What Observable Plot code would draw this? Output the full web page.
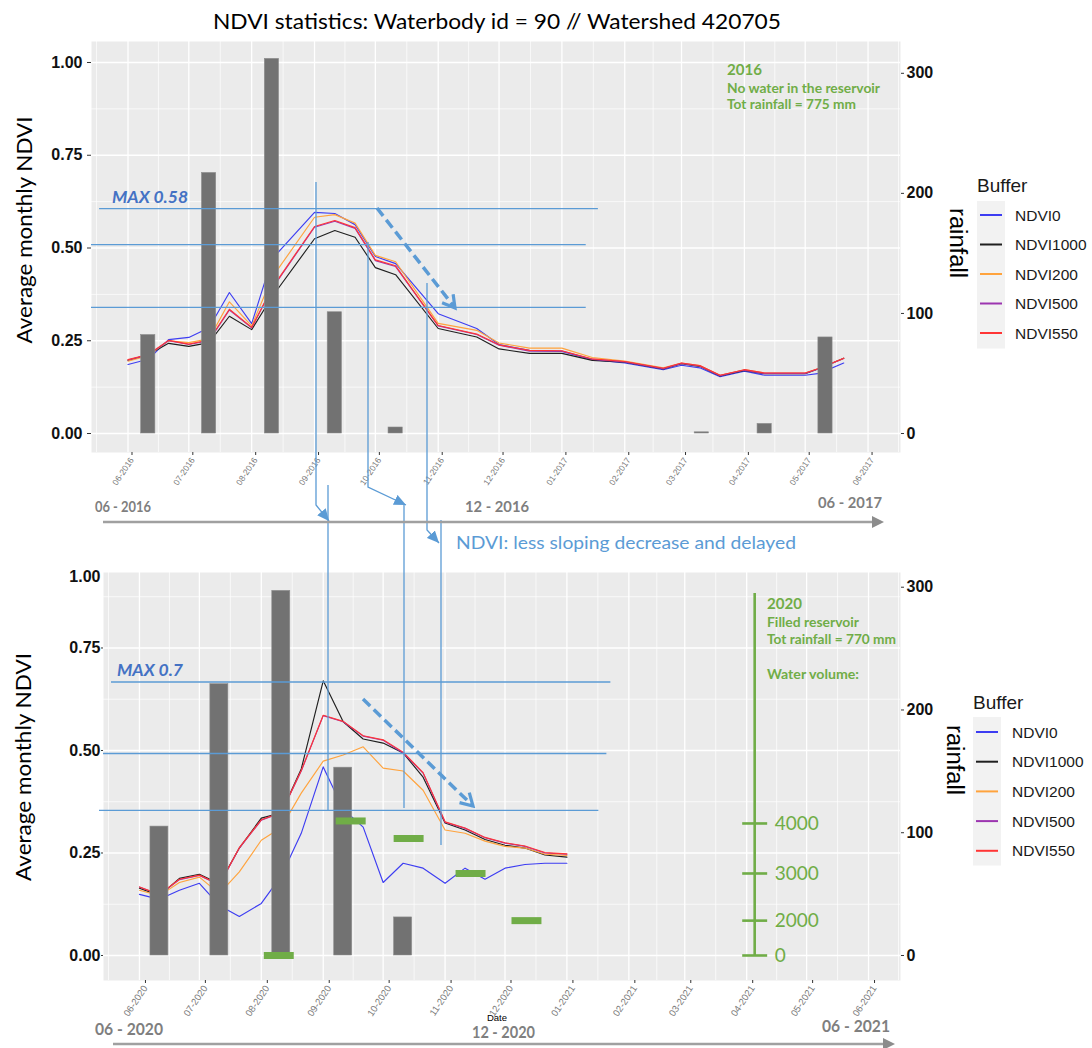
<!DOCTYPE html>
<html>
<head>
<meta charset="utf-8">
<script src="https://cdn.jsdelivr.net/npm/d3@7"></script>
<script src="https://cdn.jsdelivr.net/npm/@observablehq/plot@0.6"></script>
<style>
  html, body { margin: 0; padding: 0; background: #fff; }
  #page { position: relative; width: 1092px; height: 1048px; overflow: hidden; background: #fff; }
  #page > svg { position: absolute; left: 0; }
</style>
</head>
<body>
<div id="page"></div>
<script>
// ================= DATA =================
const buffers = ["NDVI0", "NDVI1000", "NDVI200", "NDVI500", "NDVI550"];
const bufferColors = ["#3d3df2", "#1f1f1f", "#ffa33d", "#9c35b0", "#ff3535"];

const ndviTicks = [0, 0.25, 0.5, 0.75, 1];
const rainTicks = [0, 100, 200, 300];
const waterTicks = [0, 2000, 3000, 4000];

// ---- 2016/2017 ----
const dates2016 = ["2016-06-01","2016-06-11","2016-06-21","2016-07-01","2016-07-11","2016-07-21","2016-08-01","2016-08-11","2016-09-01","2016-09-11","2016-09-21","2016-10-01","2016-10-11","2016-11-01","2016-11-20","2016-12-01","2016-12-16","2017-01-01","2017-01-16","2017-02-01","2017-02-20","2017-03-01","2017-03-10","2017-03-20","2017-04-01","2017-04-11","2017-05-01","2017-05-08","2017-05-20"];
const ndvi0_2016    = [0.186,0.200,0.253,0.259,0.285,0.380,0.296,0.470,0.596,0.593,0.563,0.477,0.458,0.323,0.283,0.240,0.224,0.221,0.199,0.190,0.172,0.184,0.177,0.153,0.168,0.157,0.157,0.162,0.190];
const ndvi1000_2016 = [0.197,0.212,0.243,0.235,0.245,0.316,0.280,0.368,0.525,0.547,0.529,0.447,0.428,0.283,0.260,0.228,0.216,0.216,0.197,0.192,0.174,0.188,0.181,0.155,0.170,0.161,0.161,0.175,0.203];
const ndvi200_2016  = [0.195,0.210,0.250,0.245,0.255,0.355,0.290,0.420,0.583,0.590,0.567,0.480,0.463,0.297,0.278,0.244,0.230,0.230,0.205,0.195,0.177,0.190,0.183,0.157,0.172,0.163,0.163,0.176,0.202];
const ndvi500_2016  = [0.198,0.212,0.250,0.240,0.250,0.333,0.285,0.390,0.556,0.572,0.553,0.466,0.450,0.290,0.267,0.238,0.222,0.222,0.200,0.193,0.175,0.189,0.182,0.156,0.171,0.162,0.162,0.175,0.202];
const ndvi550_2016  = [0.199,0.213,0.251,0.241,0.252,0.335,0.286,0.392,0.558,0.574,0.555,0.468,0.452,0.291,0.268,0.239,0.224,0.223,0.201,0.194,0.176,0.190,0.183,0.157,0.172,0.163,0.163,0.176,0.203];
const rainDates2016 = ["2016-06-11","2016-07-11","2016-08-11","2016-09-11","2016-10-11","2016-11-11","2016-12-11","2017-01-11","2017-02-11","2017-03-11","2017-04-11","2017-05-11"];
const rain2016 = [82, 217, 312, 101, 5, 0, 0, 0, 0, 1, 8, 80];

// ---- 2020/2021 ----
const dates2020 = ["2020-06-01","2020-06-11","2020-06-21","2020-07-01","2020-07-11","2020-07-21","2020-08-01","2020-08-11","2020-08-21","2020-09-01","2020-09-11","2020-09-21","2020-10-01","2020-10-11","2020-10-21","2020-11-01","2020-11-11","2020-11-21","2020-12-01","2020-12-11","2020-12-21","2021-01-01"];
const ndvi0_2020    = [0.149,0.137,0.159,0.176,0.122,0.095,0.127,0.194,0.298,0.460,0.357,0.313,0.178,0.225,0.213,0.176,0.213,0.186,0.213,0.222,0.225,0.225];
const ndvi1000_2020 = [0.164,0.146,0.188,0.198,0.175,0.262,0.335,0.348,0.455,0.670,0.570,0.528,0.518,0.494,0.435,0.323,0.306,0.283,0.269,0.262,0.245,0.240];
const ndvi200_2020  = [0.159,0.146,0.178,0.191,0.151,0.204,0.281,0.312,0.396,0.474,0.489,0.509,0.457,0.450,0.403,0.306,0.298,0.279,0.266,0.262,0.247,0.244];
const ndvi500_2020  = [0.167,0.148,0.185,0.195,0.172,0.262,0.330,0.348,0.450,0.585,0.570,0.535,0.525,0.494,0.445,0.325,0.310,0.287,0.274,0.266,0.250,0.247];
const ndvi550_2020  = [0.167,0.149,0.186,0.196,0.173,0.263,0.331,0.349,0.451,0.586,0.571,0.536,0.526,0.496,0.446,0.326,0.311,0.288,0.275,0.267,0.251,0.248];
const rainDates2020 = ["2020-06-11","2020-07-11","2020-08-11","2020-09-11","2020-10-11","2020-11-11","2020-12-11"];
const rain2020 = [105, 221, 297, 153, 31, 0, 0];
const waterDates2020 = ["2020-08-10","2020-09-15","2020-10-14","2020-11-14","2020-12-12"];
const water2020 = [0, 4050, 3700, 3000, 2000];

// ================= HELPERS =================
const DAY = 864e5;
const asDate = s => new Date(s + "T00:00:00Z");
const shiftDays = (d, n) => new Date(d.getTime() + n * DAY);
const longData = (dates, list) => buffers.flatMap((b, i) => dates.map((d, j) => ({date: asDate(d), buffer: b, value: list[i][j]})));
const rainRows = (dates, vals) => dates.map((d, i) => ({date: asDate(d), rain: vals[i]}));

const BLUE = "#5B9BD5";
const GREEN = "#70AD47";

function makePanel(cfg) {
  const months = d3.utcMonth.range(cfg.firstMonth, d3.utcMonth.offset(cfg.lastMonth, 1));
  const around = d3.utcMonth.range(d3.utcMonth.offset(cfg.firstMonth, -1), d3.utcMonth.offset(cfg.lastMonth, 2));
  const mids = d3.pairs(around, (a, b) => new Date((+a + +b) / 2)).filter(d => d > cfg.xDomain[0] && d < cfg.xDomain[1]);
  const yMinor = [0.125, 0.375, 0.625, 0.875].filter(v => v < cfg.yDomain[1]);
  const yMajor = ndviTicks.filter(v => v <= cfg.yDomain[1]);
  const k = cfg.k;
  const svg = Plot.plot({
    width: 1092, height: cfg.height,
    marginTop: cfg.mt, marginBottom: cfg.mb, marginLeft: cfg.ml, marginRight: cfg.mr,
    style: {background: "transparent", overflow: "visible", fontFamily: "'Liberation Sans', Arial, sans-serif", color: "#000"},
    x: {type: "utc", domain: cfg.xDomain},
    y: {type: "linear", domain: cfg.yDomain},
    color: {domain: buffers, range: bufferColors},
    marks: [
      Plot.frame({fill: "#EBEBEB", stroke: "none"}),
      Plot.gridY(yMinor, {stroke: "#fff", strokeOpacity: 1, strokeWidth: 0.7}),
      Plot.gridY(yMajor, {stroke: "#fff", strokeOpacity: 1, strokeWidth: 1.3}),
      Plot.gridX(mids, {stroke: "#fff", strokeOpacity: 1, strokeWidth: 0.7}),
      Plot.gridX(months, {stroke: "#fff", strokeOpacity: 1, strokeWidth: 1.3}),
      Plot.line(cfg.lines, {x: "date", y: "value", z: "buffer", stroke: "buffer", strokeWidth: 1.15}),
      Plot.rectY(cfg.rain, {
        x1: d => shiftDays(d.date, -cfg.barHalf), x2: d => shiftDays(d.date, cfg.barHalf),
        y: d => d.rain / k, fill: "#727272", stroke: "#8c8c8c", strokeWidth: 0.6
      }),
      ...cfg.annot,
      Plot.axisY(yMajor, {anchor: "left", tickFormat: d => d.toFixed(2), tickSize: cfg.tickL, tickPadding: cfg.padL,
        fontSize: 16, fontWeight: "bold", stroke: "#333", label: null}),
      Plot.axisY(rainTicks.map(r => r / k), {anchor: "right", tickFormat: v => String(Math.round(v * k)),
        tickSize: 3, tickPadding: 3, fontSize: 16, fontWeight: "bold", stroke: "#333", label: null}),
      Plot.axisX(months, {anchor: "bottom", tickFormat: d3.utcFormat("%m-%Y"), tickRotate: -56,
        fontSize: cfg.xFont, tickSize: 3, tickPadding: 3, dx: cfg.xdx, stroke: "#333", label: null})
    ]
  });
  const s = d3.select(svg);
  s.selectAll('[aria-label="y-axis tick label"]').attr("font-weight", "bold").attr("font-size", 16).attr("fill", "#111");
  s.selectAll('[aria-label="x-axis tick label"]').attr("fill", "#7a7a7a").attr("font-size", cfg.xFont);
  return svg;
}

const page = document.getElementById("page");

// ---------- top panel (2016-2017) ----------
const kTop = 309;
const topSvg = makePanel({
  height: 500, mt: 41, mb: 48, ml: 91, mr: 192,
  xDomain: [asDate("2016-05-14"), asDate("2017-06-17")],
  yDomain: [-0.0512, 1.0566],
  firstMonth: asDate("2016-06-01"), lastMonth: asDate("2017-06-01"),
  lines: longData(dates2016, [ndvi0_2016, ndvi1000_2016, ndvi200_2016, ndvi500_2016, ndvi550_2016]),
  rain: rainRows(rainDates2016, rain2016), k: kTop, barHalf: 3.5,
  tickL: 4, padL: 5, xFont: 8.5, xdx: 4,
  annot: [
    Plot.ruleY([
      {y: 0.606, x1: asDate("2016-05-18"), x2: asDate("2017-01-19")},
      {y: 0.509, x1: asDate("2016-05-14"), x2: asDate("2017-01-13")},
      {y: 0.340, x1: asDate("2016-05-14"), x2: asDate("2017-01-13")}
    ], {y: "y", x1: "x1", x2: "x2", stroke: BLUE, strokeWidth: 1.3})
  ]
});
topSvg.style.top = "0px";
page.appendChild(topSvg);

// ---------- bottom panel (2020-2021) ----------
const kBot = 334;
const waterToNdvi = d3.scaleLinear().domain(waterTicks).range([0, 0.085, 0.2, 0.322]);
const waterAxisDate = asDate("2021-04-05");
const waterRows = waterDates2020.map((d, i) => ({date: asDate(d), vol: water2020[i]}));
const botSvg = makePanel({
  height: 508, mt: 32, mb: 68, ml: 103, mr: 192,
  xDomain: [asDate("2020-05-14"), asDate("2021-06-17")],
  yDomain: [-0.061, 0.9341],
  firstMonth: asDate("2020-06-01"), lastMonth: asDate("2021-06-01"),
  lines: longData(dates2020, [ndvi0_2020, ndvi1000_2020, ndvi200_2020, ndvi500_2020, ndvi550_2020]),
  rain: rainRows(rainDates2020, rain2020), k: kBot, barHalf: 4.5,
  tickL: 2, padL: 1, xFont: 9.5, xdx: 6,
  annot: [
    Plot.ruleY([
      {y: 0.667, x1: asDate("2020-05-18"), x2: asDate("2021-01-23")},
      {y: 0.4927, x1: asDate("2020-05-14"), x2: asDate("2021-01-21")},
      {y: 0.3537, x1: asDate("2020-05-12"), x2: asDate("2021-01-17")}
    ], {y: "y", x1: "x1", x2: "x2", stroke: BLUE, strokeWidth: 1.3}),
    Plot.ruleY(waterRows, {y: d => waterToNdvi(d.vol), x1: d => shiftDays(d.date, -7.5), x2: d => shiftDays(d.date, 7.5),
      stroke: GREEN, strokeWidth: 7}),
    Plot.ruleX([waterAxisDate], {x: d => d, y1: 0, y2: 0.883, stroke: GREEN, strokeWidth: 2.6}),
    Plot.ruleY(waterTicks, {y: v => waterToNdvi(v), x1: shiftDays(waterAxisDate, -6), x2: shiftDays(waterAxisDate, 6.5),
      stroke: GREEN, strokeWidth: 2.6}),
    Plot.text(waterTicks, {x: shiftDays(waterAxisDate, 10), y: v => waterToNdvi(v), text: v => String(v),
      textAnchor: "start", fontSize: 19, fill: GREEN, fontFamily: "Lato, sans-serif"}),
    Plot.text(["1.00"], {frameAnchor: "top-left", text: d => d, textAnchor: "end", dx: -3, dy: -2,
      fontSize: 16, fontWeight: "bold", fill: "#111"})
  ]
});
botSvg.style.top = "540px";
page.appendChild(botSvg);

// ================= OVERLAY (annotations, titles, legends) =================
const ov = d3.select(page).append("svg").attr("width", 1092).attr("height", 1048)
  .style("top", "0px").style("pointer-events", "none");
const defs = ov.append("defs");
function triMarker(id, color, w, h, refX) {
  defs.append("marker").attr("id", id).attr("viewBox", `0 0 ${w} ${h}`).attr("refX", refX).attr("refY", h / 2)
    .attr("markerWidth", w).attr("markerHeight", h).attr("markerUnits", "userSpaceOnUse").attr("orient", "auto")
    .append("path").attr("d", `M0,0L${w},${h / 2}L0,${h}Z`).attr("fill", color);
}
triMarker("triBlue", BLUE, 12, 11, 12);
triMarker("triGray", "#8c8c8c", 12, 12, 0);
defs.append("marker").attr("id", "chev").attr("viewBox", "0 0 18 18").attr("refX", 15).attr("refY", 9)
  .attr("markerWidth", 18).attr("markerHeight", 18).attr("markerUnits", "userSpaceOnUse").attr("orient", "auto")
  .append("path").attr("d", "M3,2 L15,9 L3,16").attr("fill", "none").attr("stroke", BLUE).attr("stroke-width", 3.2);

function txt(x, y, s, o = {}) {
  const t = ov.append("text").attr("x", x).attr("y", y).text(s)
    .attr("font-family", o.family || "Lato, sans-serif")
    .attr("font-size", o.size || 14)
    .attr("font-weight", o.weight || "normal")
    .attr("font-style", o.style || "normal")
    .attr("fill", o.fill || "#000")
    .attr("text-anchor", o.anchor || "start");
  if (o.len) t.attr("textLength", o.len).attr("lengthAdjust", "spacingAndGlyphs");
  if (o.baseline) t.attr("dominant-baseline", o.baseline);
  if (o.rotate) t.attr("transform", `rotate(${o.rotate},${x},${y})`);
  return t;
}
function poly(pts, o = {}) {
  const p = ov.append("path").attr("d", d3.line()(pts)).attr("fill", "none")
    .attr("stroke", o.stroke || BLUE).attr("stroke-width", o.width || 1.3);
  if (o.dash) p.attr("stroke-dasharray", o.dash);
  if (o.marker) p.attr("marker-end", `url(#${o.marker})`);
  return p;
}

// title
txt(497, 29, "NDVI statistics: Waterbody id = 90 // Watershed 420705", {size: 22, anchor: "middle", len: 568});

// axis titles
txt(23, 230, "Average monthly NDVI", {size: 22, anchor: "middle", baseline: "central", rotate: -90, len: 227});
txt(22, 767, "Average monthly NDVI", {size: 22, anchor: "middle", baseline: "central", rotate: -90, len: 228});
txt(958, 243, "rainfall", {size: 23, anchor: "middle", baseline: "central", rotate: 90, len: 70, family: "'Liberation Sans', Arial, sans-serif"});
txt(955, 760, "rainfall", {size: 23, anchor: "middle", baseline: "central", rotate: 90, len: 70, family: "'Liberation Sans', Arial, sans-serif"});

// legends
function legend(x, titleY, boxY, firstY, step, labelX) {
  txt(x, titleY, "Buffer", {size: 19, family: "'Liberation Sans', Arial, sans-serif", fill: "#1a1a1a"});
  ov.append("rect").attr("x", x).attr("y", boxY).attr("width", 28).attr("height", step * 5).attr("fill", "#F2F2F2");
  buffers.forEach((b, i) => {
    const y = firstY + i * step;
    ov.append("line").attr("x1", x + 3).attr("x2", x + 25).attr("y1", y).attr("y2", y)
      .attr("stroke", bufferColors[i]).attr("stroke-width", 2);
    txt(labelX, y, b, {size: 15.5, baseline: "central", family: "'Liberation Sans', Arial, sans-serif", fill: "#1a1a1a"});
  });
}
legend(977, 192, 201, 215, 29.5, 1015);
legend(973, 709, 717, 732, 29.7, 1012);

// MAX labels
txt(112, 203, "MAX 0.58", {size: 17, weight: "bold", style: "italic", fill: "#4472C4", len: 76});
txt(117, 676, "MAX 0.7", {size: 17, weight: "bold", style: "italic", fill: "#4472C4", len: 66});

// green notes
txt(727, 75, "2016", {size: 16, weight: "bold", fill: GREEN, len: 35});
txt(727, 93, "No water in the reservoir", {size: 13, weight: "bold", fill: GREEN, len: 153});
txt(727, 109, "Tot rainfall = 775 mm", {size: 13, weight: "bold", fill: GREEN, len: 129});
txt(767, 609, "2020", {size: 16, weight: "bold", fill: GREEN, len: 35});
txt(767, 627, "Filled reservoir", {size: 13, weight: "bold", fill: GREEN, len: 92});
txt(767, 644, "Tot rainfall = 770 mm", {size: 13, weight: "bold", fill: GREEN, len: 129});
txt(767, 679, "Water volume:", {size: 13, weight: "bold", fill: GREEN, len: 92});

// dashed trend arrows
poly([[377, 208], [455, 308]], {width: 3.5, dash: "10,5", marker: "chev"});
poly([[363, 699], [473, 806]], {width: 3.5, dash: "10,5", marker: "chev"});

// connector lines between panels
poly([[316, 182], [316, 505], [329, 521]], {marker: "triBlue"});
poly([[368, 242], [368, 487], [406, 505]], {marker: "triBlue"});
poly([[427, 283], [427, 530], [439, 543]], {marker: "triBlue"});
poly([[328, 485], [328, 810]]);
poly([[404, 505], [404, 808]]);
poly([[441, 520], [441, 845]]);

// timelines
poly([[103, 522], [872, 522]], {stroke: "#a0a0a0", width: 2.5, marker: "triGray"});
poly([[113, 1044], [883, 1044]], {stroke: "#a0a0a0", width: 2.5, marker: "triGray"});
const GRAY = "#7F7F7F";
txt(95, 512, "06 - 2016", {size: 15, weight: "bold", fill: GRAY, len: 56});
txt(465, 512, "12 - 2016", {size: 15, weight: "bold", fill: GRAY, len: 64});
txt(818, 508, "06 - 2017", {size: 15, weight: "bold", fill: GRAY, len: 64});
txt(95, 1035, "06 - 2020", {size: 17, weight: "bold", fill: GRAY, len: 68});
txt(472, 1038, "12 - 2020", {size: 17, weight: "bold", fill: GRAY, len: 63});
txt(822, 1032, "06 - 2021", {size: 17, weight: "bold", fill: GRAY, len: 68});
txt(497, 1021, "Date", {size: 9.5, anchor: "middle", family: "'Liberation Sans', Arial, sans-serif"});

txt(456, 549, "NDVI: less sloping decrease and delayed", {size: 18, fill: BLUE, len: 340});
</script>
</body>
</html>
